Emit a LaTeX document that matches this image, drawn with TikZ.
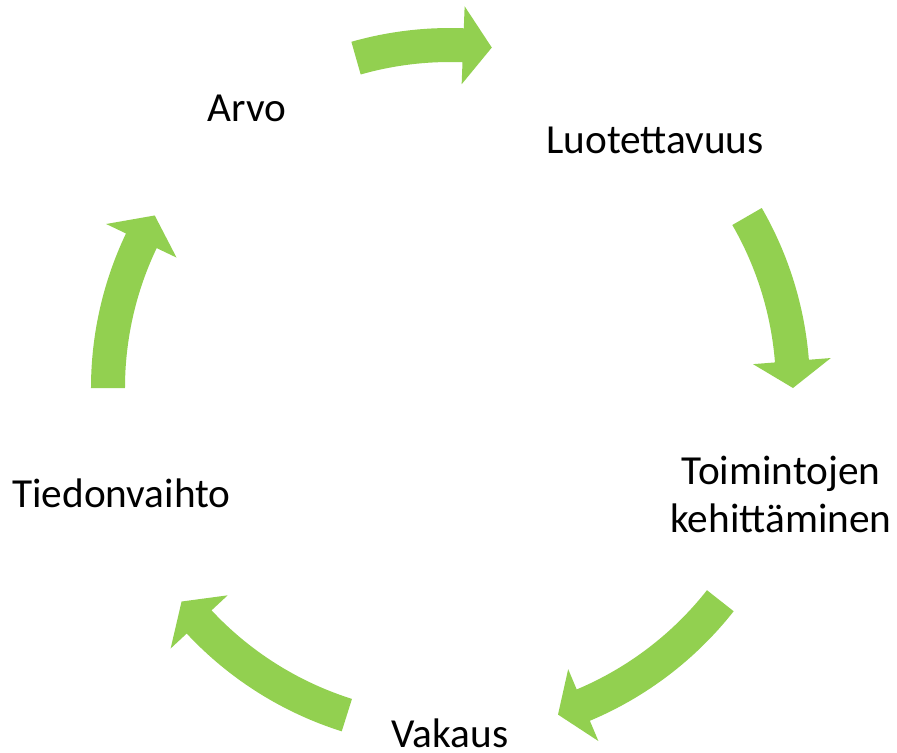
\documentclass[tikz,border=0pt]{standalone}
\usepackage{fontspec}
\setmainfont{Carlito}
\usepackage{tikz}
\usetikzlibrary{positioning}
\definecolor{arrowgreen}{HTML}{92D050}
\tikzstyle{cyclelabel}=[font=\fontsize{23.5}{27}\selectfont, inner sep=0pt, anchor=base, align=center]
% tail angle, head angle, tip angle, radius
\newcommand{\cyclearrow}[4]{\fill[arrowgreen] (#1:#4-17) arc[start angle=#1, end angle=#2, radius=#4-17] -- (#2:#4-39) -- (#3:#4) -- (#2:#4+39) -- (#2:#4+17) arc[start angle=#2, end angle=#1, radius=#4+17] -- cycle;}

\begin{document}
\begin{tikzpicture}[x=0.02cm, y=0.02cm]
				\useasboundingbox (-450,-364) rectangle (447,388);
				\node[cyclelabel](arvo)at(-203,267){Arvo};
				\node[cyclelabel](luot)at(205,235){Luotettavuus};
				\node[cyclelabel](toim)at(331,-144){Toimintojen\\kehittäminen};
				\node[cyclelabel](vakaus)at(0,-359){Vakaus};
				\node[cyclelabel](tied)at(-328.5,-119){Tiedonvaihto};
				\cyclearrow{105.9}{87.8}{83}{343}
				\cyclearrow{30}{4.5}{0}{343}
				\cyclearrow{-38.2}{-67.2}{-71.7}{344}
				\cyclearrow{-107.5}{-137}{-141.5}{343}
				\cyclearrow{180}{154.5}{149.7}{342}
			\end{tikzpicture}
\end{document}
